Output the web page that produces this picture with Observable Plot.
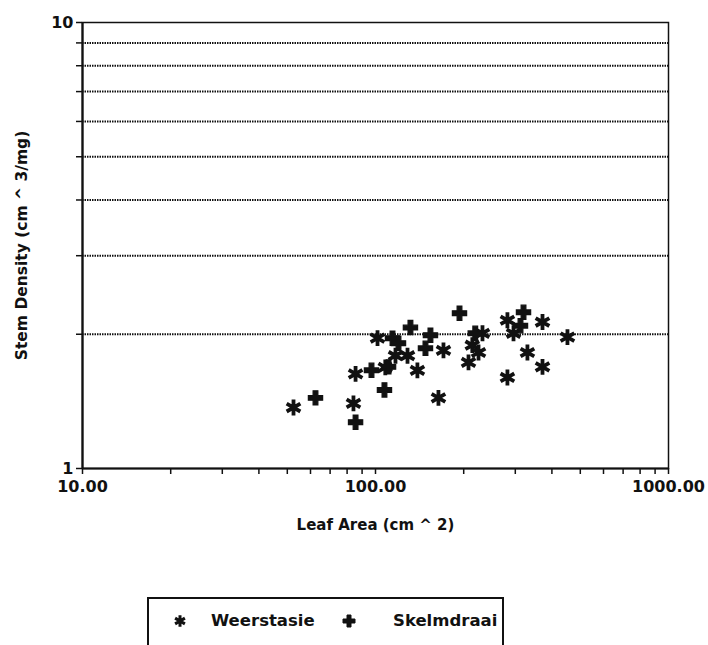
<!DOCTYPE html>
<html><head><meta charset="utf-8">
<script src="https://cdn.jsdelivr.net/npm/d3@7"></script>
<script src="https://cdn.jsdelivr.net/npm/@observablehq/plot@0.6"></script>
<style>
body{margin:0;background:#fff;font-family:"DejaVu Sans",sans-serif;}
#chart{position:relative;width:708px;height:645px;overflow:hidden;background:#fff;}
#legend{position:absolute;left:147px;top:597px;width:357px;height:70px;border:2px solid #111;box-sizing:border-box;}
.li{position:absolute;top:11px;font-size:16.5px;font-weight:bold;color:#111;line-height:22px;}
.ls{position:absolute;top:12px;}
</style></head><body><div id="chart"></div>
<script>
const seriesNames = ["Weerstasie", "Skelmdraai"];
const weerstasieArea    = [52.5, 84.1, 85.5, 101.6, 108, 117, 128.6, 139, 164, 170.6, 207.7, 214, 224.7, 231.8, 282, 282, 295.8, 330, 371.5, 371.5, 452];
const weerstasieDensity = [1.37, 1.40, 1.63, 1.96, 1.685, 1.79, 1.79, 1.66, 1.44, 1.84, 1.73, 1.89, 1.82, 2.01, 2.15, 1.60, 2.01, 1.82, 2.13, 1.69, 1.97];
const skelmdraaiArea    = [62.4, 85.5, 96.9, 107.3, 110.8, 114.3, 119.8, 131.6, 148.1, 154, 193.5, 219, 312.5, 320];
const skelmdraaiDensity = [1.44, 1.27, 1.66, 1.50, 1.69, 1.96, 1.91, 2.07, 1.86, 1.99, 2.23, 2.01, 2.09, 2.24];
const xTicks = [10,20,30,40,50,60,70,80,90,100,200,300,400,500,600,700,800,900,1000];
const xLabelTicks = [10, 100, 1000];
const yTicks = [1,2,3,4,5,6,7,8,9,10];
const yLabelTicks = [1, 10];
const gridValues = [2,3,4,5,6,7,8,9];
const xLabel = "Leaf Area (cm ^ 2)";
const yLabel = "Stem Density (cm ^ 3/mg)";

const wData = weerstasieArea.map((a, i) => ({area: a, density: weerstasieDensity[i]}));
const sData = skelmdraaiArea.map((a, i) => ({area: a, density: skelmdraaiDensity[i]}));

const plot = Plot.plot({
  width: 708, height: 560,
  marginLeft: 82, marginRight: 40, marginTop: 22, marginBottom: 92,
  style: {fontFamily: "'DejaVu Sans', sans-serif", color: "#111", background: "white"},
  x: {type: "log", domain: [10, 1000]},
  y: {type: "log", domain: [1, 10]},
  marks: [
    Plot.ruleY(gridValues, {stroke: "#111", strokeWidth: 2, strokeDasharray: "1.5,1"}),
    Plot.axisX(xTicks, {tickSize: 6, tickPadding: 6, strokeWidth: 1.5, fontSize: 16, fontWeight: "bold",
      tickFormat: d => xLabelTicks.includes(d) ? d3.format(".2f")(d) : "", label: null}),
    Plot.axisY(yTicks, {tickSize: 6, tickPadding: 3, strokeWidth: 1.5, fontSize: 16, fontWeight: "bold",
      tickFormat: d => yLabelTicks.includes(d) ? String(d) : "", label: null}),
    Plot.frame({stroke: "#111", strokeWidth: 1.5}),
    Plot.ruleX([10], {stroke: "#111", strokeWidth: 2.2}),
    Plot.ruleY([1], {stroke: "#111", strokeWidth: 2.2}),
    Plot.text([xLabel], {frameAnchor: "bottom", dy: 57, lineAnchor: "middle", textAnchor: "middle", fontSize: 15, fontWeight: "bold", fill: "#111"}),
    Plot.text([yLabel], {frameAnchor: "left", dx: -60, rotate: -90, lineAnchor: "middle", textAnchor: "middle", fontSize: 15.5, fontWeight: "bold", fill: "#111"}),
    Plot.dot(wData, {x: "area", y: "density", symbol: "asterisk", r: 7.5, stroke: "#111", strokeWidth: 3.8}),
    Plot.dot(sData, {x: "area", y: "density", symbol: "cross", r: 6, fill: "#111", stroke: "#111", strokeWidth: 1.2})
  ]
});
const chart = document.getElementById("chart");
chart.appendChild(plot);

const legend = document.createElement("div");
legend.id = "legend";
const sym = (type, size, filled) => {
  const p = d3.symbol(type, size)();
  return `<svg width="20" height="20" viewBox="-10 -10 20 20"><path d="${p}" ${filled ? 'fill="#111" stroke="#111" stroke-width="1"' : 'fill="none" stroke="#111" stroke-width="3"'}/></svg>`;
};
legend.innerHTML =
  `<span class="ls" style="left:21px">${sym(d3.symbolAsterisk, 90, false)}</span>` +
  `<span class="li" style="left:62px">${seriesNames[0]}</span>` +
  `<span class="ls" style="left:190px">${sym(d3.symbolCross, 80, true)}</span>` +
  `<span class="li" style="left:244px">${seriesNames[1]}</span>`;
chart.appendChild(legend);
</script></body></html>
